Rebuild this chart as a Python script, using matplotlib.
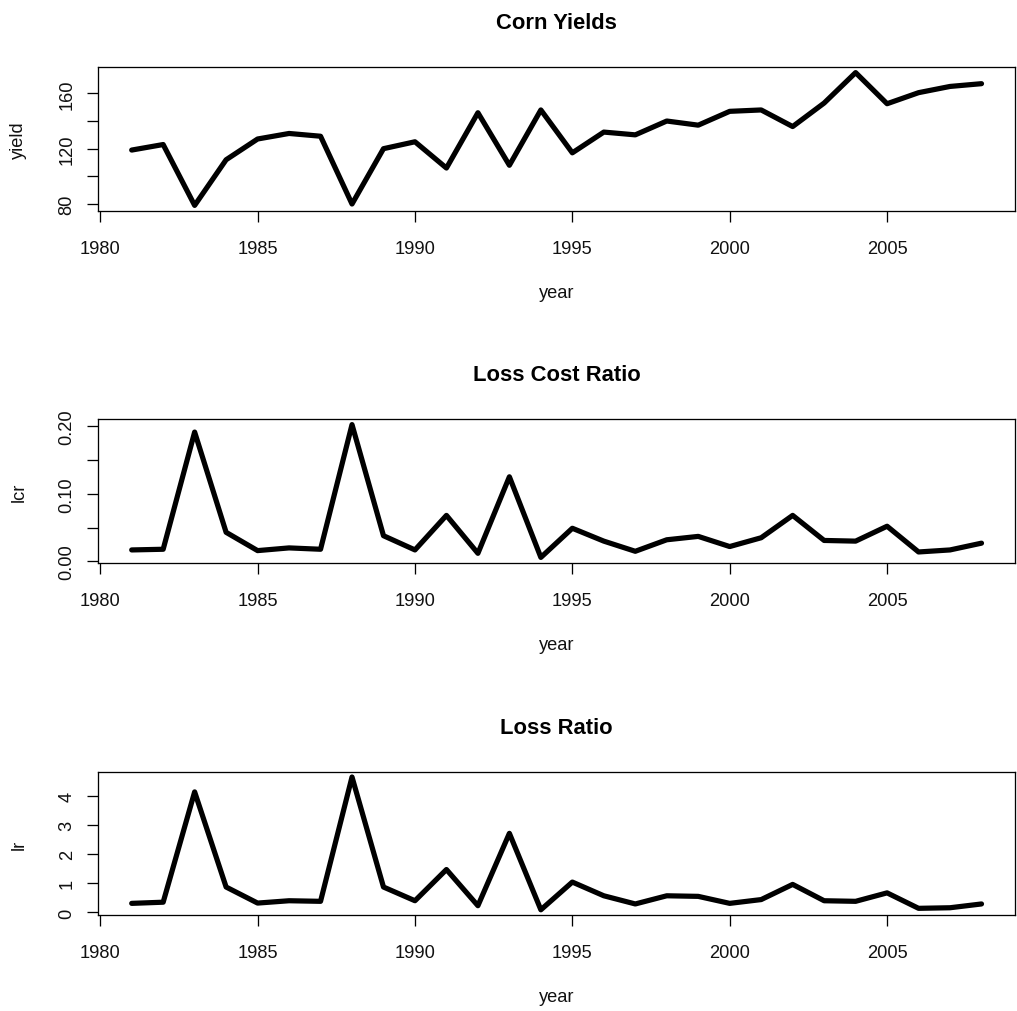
import matplotlib
matplotlib.use("Agg")
import matplotlib.pyplot as plt

# Crop insurance series, 1981-2008
years = list(range(1981, 2009))
yield_bu = [119, 123, 79, 112, 127, 131, 129, 80, 120, 125, 106, 146, 108, 148,
            117, 132, 130, 140, 137, 147, 148, 136, 153, 175, 152.5, 160.5, 165, 167]
lcr = [0.017, 0.018, 0.191, 0.043, 0.016, 0.020, 0.018, 0.202, 0.038, 0.017,
       0.068, 0.012, 0.125, 0.006, 0.049, 0.030, 0.015, 0.032, 0.037, 0.022,
       0.035, 0.068, 0.031, 0.030, 0.052, 0.014, 0.017, 0.027]
lr = [0.31, 0.35, 4.13, 0.87, 0.32, 0.40, 0.38, 4.64, 0.87, 0.40,
      1.47, 0.23, 2.71, 0.09, 1.04, 0.57, 0.29, 0.57, 0.55, 0.31,
      0.44, 0.96, 0.40, 0.38, 0.67, 0.14, 0.16, 0.29]

titles = ["Corn Yields", "Loss Cost Ratio", "Loss Ratio"]
ylabels = ["yield", "lcr", "lr"]
xticks = [1980, 1985, 1990, 1995, 2000, 2005]
yticks_yield = [80, 100, 120, 140, 160]
ylabels_yield = ["80", "", "120", "", "160"]
yticks_lcr = [0.00, 0.05, 0.10, 0.15, 0.20]
ylabels_lcr = ["0.00", "", "0.10", "", "0.20"]
yticks_lr = [0, 1, 2, 3, 4]
ylabels_lr = ["0", "1", "2", "3", "4"]

plt.rcParams["font.family"] = ["Liberation Sans", "DejaVu Sans"]

W, H = 1017, 1012
DPI = 100
fig = plt.figure(figsize=(W / DPI, H / DPI), dpi=DPI)
fig.patch.set_facecolor("white")

PX = 72.0 / DPI  # points per pixel
base_fs = 18.3 * PX
title_fs = 22.0 * PX

left_px, right_px = 97.7, 1015.5
box_h = 143.4
tops = [68.3, 420.3, 772.7]

series = [yield_bu, lcr, lr]
yticks_all = [yticks_yield, yticks_lcr, yticks_lr]
ylabs_all = [ylabels_yield, ylabels_lcr, ylabels_lr]

tick_len = 11.3 * PX

for i in range(3):
    top = tops[i]
    ax = fig.add_axes([left_px / W, 1 - (top + box_h) / H,
                       (right_px - left_px) / W, box_h / H])
    ax.plot(years, series[i], color="black", linewidth=5.2 * PX,
            solid_capstyle="round", solid_joinstyle="round")
    ax.margins(x=0.04, y=0.04)

    for sp in ax.spines.values():
        sp.set_linewidth(1.3 * PX)
        sp.set_color("black")

    ax.set_xticks(xticks)
    ax.set_xticklabels([str(t) for t in xticks])
    ax.set_yticks(yticks_all[i])
    ax.set_yticklabels(ylabs_all[i])

    ax.tick_params(axis="both", direction="out", length=tick_len,
                   width=1.3 * PX, color="black", labelsize=base_fs,
                   labelcolor="#111111")
    ax.tick_params(axis="x", pad=(42.3 - 11.3) * PX)
    ax.tick_params(axis="y", pad=(26.0 - 11.3) * PX)
    for lab in ax.get_xticklabels():
        lab.set_verticalalignment("baseline")
    for lab in ax.get_yticklabels():
        lab.set_rotation(90)
        lab.set_rotation_mode("anchor")
        lab.set_horizontalalignment("center")
        lab.set_verticalalignment("baseline")

    # panel title
    ax.annotate(titles[i], xy=(0.5, 1.0), xycoords="axes fraction",
                xytext=(0, 39.0 * PX), textcoords="offset points",
                ha="center", va="baseline", fontsize=title_fs,
                fontweight="bold", color="black")
    # x axis title
    ax.annotate("year", xy=(0.5, 0.0), xycoords="axes fraction",
                xytext=(0, -86.0 * PX), textcoords="offset points",
                ha="center", va="baseline", fontsize=base_fs, color="#111111")
    # y axis title
    ax.annotate(ylabels[i], xy=(0.0, 0.5), xycoords="axes fraction",
                xytext=(-74.4 * PX, 0), textcoords="offset points",
                ha="center", va="baseline", rotation=90,
                rotation_mode="anchor", fontsize=base_fs, color="#111111")

fig.savefig("out.png", dpi=DPI, facecolor="white")
